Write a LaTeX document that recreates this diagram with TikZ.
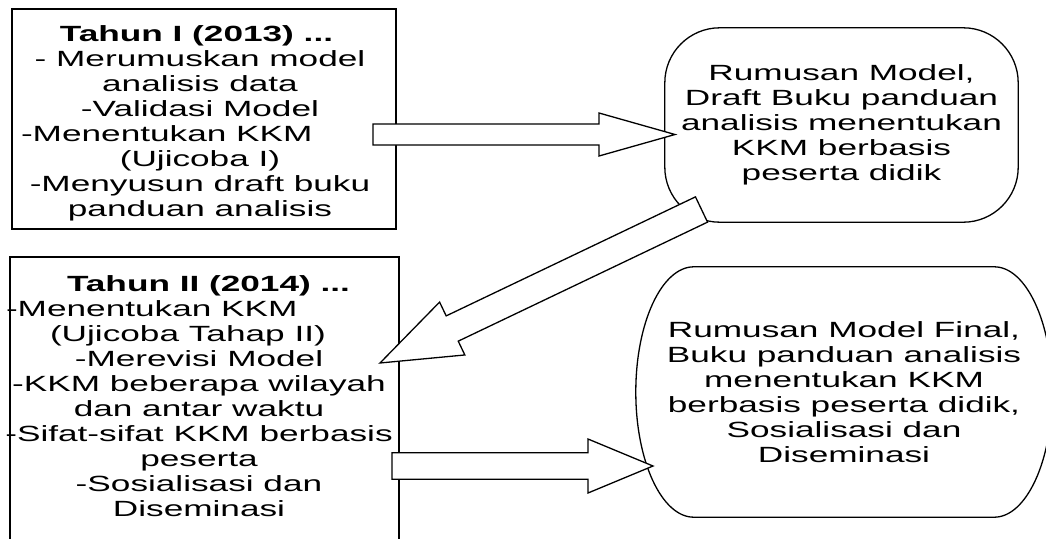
\documentclass[tikz,border=0pt]{standalone}
\usepackage{fontspec}
\setmainfont{Liberation Sans}
\newfontfamily\widefont[FakeStretch=1.6]{Liberation Sans}
\newfontfamily\widebold[FakeStretch=1.6]{Liberation Sans Bold}
\usetikzlibrary{calc}
\tikzset{
    year-box/.style = {draw, rectangle, line width=1.3pt, inner sep=0pt},
    year-title/.style = {inner sep=0pt, anchor=base, font=\widebold\fontsize{22}{25}\selectfont},
    year-text/.style = {align=center, inner sep=0pt, font=\widefont\fontsize{22}{25}\selectfont},
    result-shape/.style = {align=center, inner sep=0pt, font=\widefont\fontsize{22}{25}\selectfont},
    result-line/.style = {draw, line width=1.3pt, x=1pt, y=1pt},
    block-arrow/.style = {draw, fill=white, line width=1.3pt, line join=miter, x=1pt, y=1pt},
}
% a line that starts #1 left of the middle of its node
\newcommand{\fromleft}[2]{\makebox[0pt][l]{\kern-#1pt #2}}
% #1 tail, #2 tip, #3 half shaft, #4 half head, #5 head length
\newcommand{\blockarrow}[5]{%
    \draw[block-arrow] let \p1=($(#2)-(#1)$), \n1={atan2(\y1,\x1)}, \n2={veclen(\x1,\y1)} in
        [shift={(#1)}, rotate=\n1]
        (0,#3) -- (\n2-#5,#3) -- (\n2-#5,#4) -- (\n2,0) -- (\n2-#5,-#4) -- (\n2-#5,-#3) -- (0,-#3) -- cycle;}
% outline round a result node, corners #2 wide and #3 high
\newcommand{\roundframe}[3]{%
    \draw[result-line] let \p1=(#1.north east), \p2=(#1.south west) in
        (\x2+#2pt,\y1) -- (\x1-#2pt,\y1)
        arc[start angle=90, end angle=0, x radius=#2pt, y radius=#3pt] -- (\x1,\y2+#3pt)
        arc[start angle=0, end angle=-90, x radius=#2pt, y radius=#3pt] -- (\x2+#2pt,\y2)
        arc[start angle=270, end angle=180, x radius=#2pt, y radius=#3pt] -- (\x2,\y1-#3pt)
        arc[start angle=180, end angle=90, x radius=#2pt, y radius=#3pt] -- cycle;}

\begin{document}
\begin{tikzpicture}[x=1pt, y=-1pt]
\useasboundingbox (0,0) rectangle (1046,538);

\node[year-box, minimum width=384pt, minimum height=220pt] (tahun1) at (204,119) {};
\node[year-box, minimum width=389pt, minimum height=291pt] (tahun2) at (204.5,402.5) {};

\node[year-title] (tahun1-title) at (196.5,41.7) {Tahun I (2013) ...};
\node[year-text] (tahun1-text) at (200,136.1) {- Merumuskan model\\
    analisis data\\
    -Validasi Model\\
    \fromleft{179}{-Menentukan KKM}\\
    (Ujicoba I)\\
    -Menyusun draft buku\\
    panduan analisis};
\node[year-title] (tahun2-title) at (208.5,291.7) {Tahun II (2014) ...};
\node[year-text] (tahun2-text) at (199,408.8) {\fromleft{193}{-Menentukan KKM}\\
    \fromleft{149}{(Ujicoba Tahap II)}\\
    -Merevisi Model\\
    -KKM beberapa wilayah\\
    dan antar waktu\\
    -Sifat-sifat KKM berbasis\\
    peserta\\
    -Sosialisasi dan\\
    Diseminasi};

\node[result-shape, minimum width=353pt, minimum height=194pt] (hasil1) at (841.5,125) {Rumusan Model,\\
    Draft Buku panduan\\
    analisis menentukan\\
    KKM berbasis\\
    peserta didik};
\node[result-shape, minimum width=416pt, minimum height=250pt] (hasil2) at (844,392) {Rumusan Model Final,\\
    Buku panduan analisis\\
    menentukan KKM\\
    berbasis peserta didik,\\
    Sosialisasi dan\\
    Diseminasi};
\roundframe{hasil1}{55}{55}
\roundframe{hasil2}{58}{125}

\coordinate (tail1) at (373,134.5);
\coordinate (tip1) at (675,134.5);
\coordinate (tail2) at (701.5,209.5);
\coordinate (tip2) at (380,363);
\coordinate (tail3) at (392,466);
\coordinate (tip3) at (653,466);

\blockarrow{tail1}{tip1}{10.5}{21.5}{76}
\blockarrow{tail2}{tip2}{14}{29.3}{80}
\blockarrow{tail3}{tip3}{13.3}{27}{65}
\end{tikzpicture}
\end{document}
